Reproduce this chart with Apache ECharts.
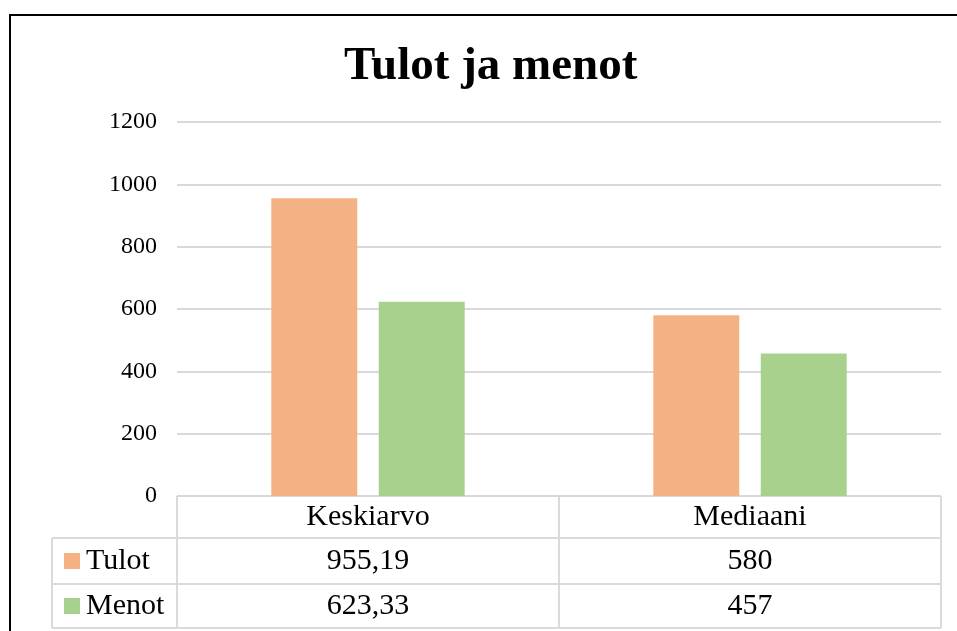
<!DOCTYPE html>
<html>
<head>
<meta charset="utf-8">
<script src="https://cdn.jsdelivr.net/npm/echarts@6/dist/echarts.min.js"></script>
<style>
  html, body { margin: 0; padding: 0; background: #fff; }
  #main { width: 957px; height: 631px; }
</style>
</head>
<body>
<div id="main"></div>
<script>
// data
var categories = ['Keskiarvo', 'Mediaani'];
var seriesNames = ['Tulot', 'Menot'];
var tulot = [955.19, 580];
var menot = [623.33, 457];
var colors = ['#f4b183', '#a9d18e'];

// layout of plot + data table
var plotL = 177, plotR = 941, plotT = 122, plotB = 496;
var rowTops = [538, 584], rowBottom = 628, tableLeft = 52;
var lineColor = '#dadada';
var serif = '"Liberation Serif", "Times New Roman", serif';

function fmt(v) { return String(v).replace('.', ','); }

var values = [tulot, menot];
var catW = (plotR - plotL) / categories.length;
var graphic = [];

// page border
graphic.push({ type: 'rect', shape: { x: 10, y: 15, width: 1200, height: 1000 },
  style: { fill: 'none', stroke: '#000', lineWidth: 2 }, silent: true });

function hline(x1, x2, y) {
  graphic.push({ type: 'line', shape: { x1: x1, y1: y, x2: x2, y2: y },
    style: { stroke: lineColor, lineWidth: 2 }, silent: true });
}
function vline(x, y1, y2) {
  graphic.push({ type: 'line', shape: { x1: x, y1: y1, x2: x, y2: y2 },
    style: { stroke: lineColor, lineWidth: 2 }, silent: true });
}

hline(plotL, plotR, plotB);
rowTops.forEach(function (y) { hline(tableLeft, plotR, y); });
hline(tableLeft, plotR, rowBottom);
vline(tableLeft, rowTops[0], rowBottom);
for (var c = 0; c <= categories.length; c++) vline(plotL + c * catW, plotB, rowBottom);

seriesNames.forEach(function (name, s) {
  var yMid = (rowTops[s] + (rowTops[s + 1] || rowBottom)) / 2;
  graphic.push({ type: 'rect', shape: { x: 64, y: yMid - 8, width: 16, height: 16 },
    style: { fill: colors[s] }, silent: true });
  graphic.push({ type: 'text', x: 86, y: yMid, silent: true,
    style: { text: name, font: '30px ' + serif, fill: '#000', verticalAlign: 'middle' } });
  values[s].forEach(function (v, i) {
    graphic.push({ type: 'text', x: plotL + (i + 0.5) * catW, y: yMid, silent: true,
      style: { text: fmt(v), font: '30px ' + serif, fill: '#000', align: 'center', verticalAlign: 'middle' } });
  });
});

var chart = echarts.init(document.getElementById('main'));
chart.setOption({
  animation: false,
  backgroundColor: '#fff',
  title: {
    text: 'Tulot ja menot', left: 339, top: 38,
    textStyle: { fontFamily: serif, fontWeight: 'bold', fontSize: 47, color: '#000' }
  },
  grid: { left: plotL, right: 957 - plotR, top: plotT, bottom: 631 - plotB, containLabel: false },
  xAxis: {
    type: 'category', data: categories,
    axisLine: { show: false }, axisTick: { show: false },
    axisLabel: { margin: 21, verticalAlign: 'middle', fontFamily: serif, fontSize: 30, color: '#000' }
  },
  yAxis: {
    type: 'value', min: 0, max: 1200, interval: 200,
    axisLine: { show: false }, axisTick: { show: false },
    axisLabel: { margin: 20, fontFamily: serif, fontSize: 24, color: '#000',
      formatter: function (v) { return String(v); } },
    splitLine: { lineStyle: { color: '#d9d9d9', width: 2 } }
  },
  series: seriesNames.map(function (name, s) {
    return {
      name: name, type: 'bar', data: values[s], barWidth: '22.5%', barGap: '25%',
      itemStyle: { color: colors[s] }
    };
  }),
  graphic: graphic
});
</script>
</body>
</html>
